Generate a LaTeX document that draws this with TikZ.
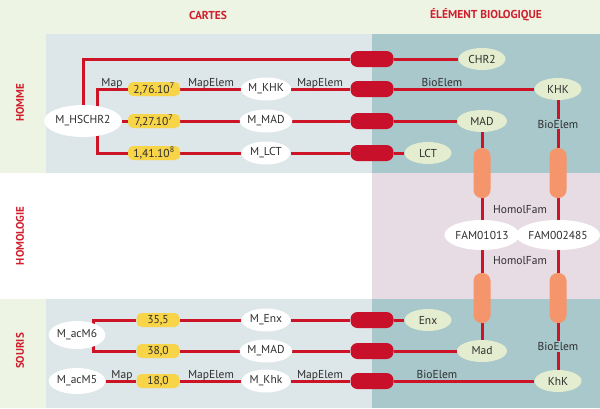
\documentclass[tikz,border=0pt]{standalone}
\usepackage{fontspec}
\setmainfont{PT Sans}
\usetikzlibrary{shapes.geometric}
\definecolor{bggreen}{HTML}{EEF4E4}
\definecolor{bggray}{HTML}{DDE6E8}
\definecolor{tealc}{HTML}{A8C8CC}
\definecolor{pinkc}{HTML}{E8DCE4}
\definecolor{linered}{HTML}{CC1426}
\definecolor{pillred}{HTML}{C8102A}
\definecolor{yel}{HTML}{F7D448}
\definecolor{orng}{HTML}{F4956C}
\definecolor{lgreen}{HTML}{E4EDCF}
\definecolor{txt}{HTML}{2E2E2E}
\definecolor{titred}{HTML}{D01E2C}
\pgfdeclarelayer{back}
\pgfdeclarelayer{lines}
\pgfsetlayers{back,lines,main}
\begin{document}
\begin{tikzpicture}[x=1pt,y=-1pt,
  every node/.style={text=txt, font=\fontsize{11.5}{13}\selectfont},
  wnode/.style={ellipse, fill=white, inner sep=0pt},
  gnode/.style={ellipse, fill=lgreen, inner sep=0pt, minimum width=47pt, minimum height=22pt},
  pill/.style={rectangle, rounded corners=7pt, fill=pillred, minimum width=43pt, minimum height=16pt, inner sep=0pt},
  opill/.style={rectangle, rounded corners=8pt, fill=orng, minimum width=17pt, minimum height=50pt, inner sep=0pt},
  ybox/.style={rectangle, rounded corners=5pt, fill=yel, minimum height=14pt, inner sep=0pt},
  link/.style={draw=linered, line width=3pt},
  lbl/.style={inner sep=1pt, anchor=base},
  vlbl/.style={inner sep=1pt, fill=tealc},
  title/.style={text=titred, font=\fontsize{11.5}{13}\selectfont\bfseries},
  side/.style={text=titred, font=\fontsize{11}{13}\selectfont\bfseries, rotate=90}
]
\useasboundingbox (0,0) rectangle (600,408);
\begin{pgfonlayer}{back}
\fill[bggreen] (0,0) rectangle (600,408);
\fill[bggray] (46,34) rectangle (372,173);
\fill[tealc] (372,34) rectangle (600,173);
\fill[white] (0,173) rectangle (372,299);
\fill[pinkc] (372,173) rectangle (600,299);
\fill[bggray] (46,299) rectangle (372,408);
\fill[tealc] (372,299) rectangle (600,408);
\end{pgfonlayer}

% titles
\node[title] (tcartes) at (208,15) {CARTES};
\node[title] (tbio) at (486,15) {ÉLÉMENT BIOLOGIQUE};
\node[side] (thomme) at (20,103) {HOMME};
\node[side] (thomol) at (20,236) {HOMOLOGIE};
\node[side] (tsouris) at (20,351) {SOURIS};

% HOMME
\node[wnode, minimum width=64pt, minimum height=32pt] (hs) at (83,121) {M\_HSCHR2};
\coordinate (brk) at (97,121);
\node[ybox, minimum width=52pt] (y1) at (154,89) {2,76.10\textsuperscript{7}};
\node[ybox, minimum width=52pt] (y2) at (154,121) {7,27.10\textsuperscript{7}};
\node[ybox, minimum width=52pt] (y3) at (154,153) {1,41.10\textsuperscript{8}};
\node[wnode, minimum width=49pt, minimum height=23pt] (mk1) at (266,89) {M\_KHK};
\node[wnode, minimum width=49pt, minimum height=23pt] (mm1) at (266,121) {M\_MAD};
\node[wnode, minimum width=49pt, minimum height=23pt] (ml1) at (266,153) {M\_LCT};
\node[pill] (p1) at (372,59) {};
\node[pill] (p2) at (372,89) {};
\node[pill] (p3) at (372,121) {};
\node[pill] (p4) at (372,153) {};
\node[gnode] (chr2) at (482,59) {CHR2};
\node[gnode] (khk) at (558,89) {KHK};
\node[gnode, minimum width=50pt] (mad) at (482,121) {MAD};
\node[gnode] (lct) at (428,153) {LCT};

\node[lbl] (lmap1) at (112,86.5) {Map};
\node[lbl] (lme1) at (211,86.5) {MapElem};
\node[lbl] (lme2) at (320,86.5) {MapElem};
\node[lbl] (lbe1) at (442,86.5) {BioElem};

% HOMOLOGIE
\node[opill] (o1) at (482,173) {};
\node[opill] (o2) at (558,173) {};
\node[wnode, minimum width=63pt, minimum height=30pt] (fam1) at (482,235) {FAM01013};
\node[wnode, minimum width=63pt, minimum height=30pt] (fam2) at (558,235) {FAM002485};
\node[opill] (o3) at (482,298) {};
\node[opill] (o4) at (558,298) {};
\node (lhf1) at (520,210) {HomolFam};
\node (lhf2) at (520,261) {HomolFam};

% SOURIS
\node[wnode, minimum width=48pt, minimum height=28pt] (m6) at (77,335) {M\_acM6};
\coordinate (brk2) at (93,335);
\node[wnode, minimum width=48pt, minimum height=26pt] (m5) at (77,381) {M\_acM5};
\node[ybox, minimum width=43pt] (y4) at (158,320) {35,5};
\node[ybox, minimum width=43pt] (y5) at (158,351) {38,0};
\node[ybox, minimum width=43pt] (y6) at (158,381) {18,0};
\node[wnode, minimum width=49pt, minimum height=23pt] (menx) at (266,320) {M\_Enx};
\node[wnode, minimum width=49pt, minimum height=23pt] (mmad2) at (266,351) {M\_MAD};
\node[wnode, minimum width=49pt, minimum height=23pt] (mkhk2) at (266,381) {M\_Khk};
\node[pill] (p5) at (372,320) {};
\node[pill] (p6) at (372,351) {};
\node[pill] (p7) at (372,381) {};
\node[gnode] (enx) at (428,320) {Enx};
\node[gnode, minimum width=50pt] (mad2) at (482,351) {Mad};
\node[gnode] (khk2) at (558,381) {KhK};

\node[lbl] (lmap2) at (122,378.5) {Map};
\node[lbl] (lme3) at (211,378.5) {MapElem};
\node[lbl] (lme4) at (320,378.5) {MapElem};
\node[lbl] (lbe2) at (437,378.5) {BioElem};

% connectors
\begin{pgfonlayer}{lines}
\draw[link] (hs) |- (p1);
\draw[link] (p1) -- (chr2);
\draw[link] (y1) -| (brk) |- (y3);
\draw[link] (hs) -- (y2);
\draw[link] (y1) -- (mk1);
\draw[link] (y2) -- (mm1);
\draw[link] (y3) -- (ml1);
\draw[link] (mk1) -- (p2);
\draw[link] (mm1) -- (p3);
\draw[link] (ml1) -- (p4);
\draw[link] (p2) -- (khk);
\draw[link] (p3) -- (mad);
\draw[link] (p4) -- (lct);
\draw[link] (mad) -- (o1);
\draw[link] (o1) -- (fam1);
\draw[link] (fam1) -- (o3);
\draw[link] (o3) -- (mad2);
\draw[link] (o2) -- (fam2);
\draw[link] (fam2) -- (o4);
\draw[link] (y4) -| (brk2) |- (y5);
\draw[link] (m5) -- (y6);
\draw[link] (y4) -- (menx);
\draw[link] (y5) -- (mmad2);
\draw[link] (y6) -- (mkhk2);
\draw[link] (menx) -- (p5);
\draw[link] (mmad2) -- (p6);
\draw[link] (mkhk2) -- (p7);
\draw[link] (p5) -- (enx);
\draw[link] (p6) -- (mad2);
\draw[link] (p7) -- (khk2);
\end{pgfonlayer}
\draw[link] (khk) -- node[vlbl] (lbv1) {BioElem} (o2);
\draw[link] (o4) -- node[vlbl] (lbv2) {BioElem} (khk2);
\end{tikzpicture}
\end{document}
